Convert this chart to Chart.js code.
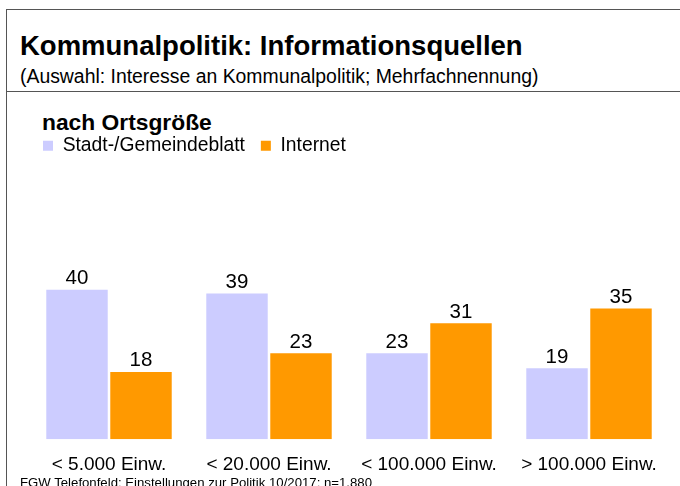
<!DOCTYPE html>
<html>
<head>
<meta charset="utf-8">
<script src="https://cdn.jsdelivr.net/npm/chart.js@4/dist/chart.umd.min.js"></script>
<style>
  body { margin: 0; width: 680px; height: 486px; overflow: hidden; background: #fff; position: relative; font-family: "Liberation Sans", Arial, sans-serif; }
  .frame { position: absolute; left: 6px; top: 9px; width: 700px; height: 500px; border-left: 1.5px solid #555; border-top: 1.5px solid #555; }
  .rule { position: absolute; left: 6px; top: 91px; width: 680px; border-top: 1.5px solid #555; }
  h1 { position: absolute; left: 20px; top: 30px; margin: 0; font-size: 27.5px; font-weight: bold; color: #000; line-height: 32px; }
  .sub { position: absolute; left: 20px; top: 64px; font-size: 19.4px; color: #000; line-height: 24px; }
  h2 { position: absolute; left: 42px; top: 108px; margin: 0; font-size: 22.8px; font-weight: bold; color: #000; line-height: 28px; }
  .note { position: absolute; left: 20px; top: 475px; font-size: 13.2px; color: #000; line-height: 16px; }
  .box { position: absolute; left: 0; top: 120px; width: 680px; height: 366px; }
</style>
</head>
<body>
<div class="frame"></div>
<div class="rule"></div>
<h1>Kommunalpolitik: Informationsquellen</h1>
<div class="sub">(Auswahl: Interesse an Kommunalpolitik; Mehrfachnennung)</div>
<h2>nach Ortsgröße</h2>
<div class="box"><canvas id="chart"></canvas></div>
<div class="note">FGW Telefonfeld: Einstellungen zur Politik 10/2017; n=1.880</div>
<script>
// Data
const categories = ['< 5.000 Einw.', '< 20.000 Einw.', '< 100.000 Einw.', '> 100.000 Einw.'];
const seriesNames = ['Stadt-/Gemeindeblatt', 'Internet'];
const gemeindeblatt = [40, 39, 23, 19];
const internet = [18, 23, 31, 35];
const colors = ['#ccccff', '#ff9900'];

const fontFamily = '"Liberation Sans", Arial, sans-serif';

// Value labels above each bar
const valueLabels = {
    id: 'valueLabels',
    afterDatasetsDraw (chart) {
        const ctx = chart.ctx;
        ctx.save();
        ctx.fillStyle = '#000';
        ctx.font = '20.5px ' + fontFamily;
        ctx.textAlign = 'center';
        ctx.textBaseline = 'bottom';
        chart.data.datasets.forEach((ds, i) => {
            chart.getDatasetMeta(i).data.forEach((bar, j) => {
                ctx.fillText(ds.data[j], bar.x, bar.y - 1);
            });
        });
        ctx.restore();
    }
};

const chart = new Chart(document.getElementById('chart'), {
    type: 'bar',
    data: {
        labels: categories,
        datasets: [
            { label: seriesNames[0], data: gemeindeblatt, backgroundColor: colors[0] },
            { label: seriesNames[1], data: internet, backgroundColor: colors[1] }
        ]
    },
    options: {
        responsive: true,
        maintainAspectRatio: false,
        animation: false,
        layout: { padding: { left: 27, right: 11, top: 0, bottom: -4 } },
        plugins: {
            tooltip: { enabled: false },
            legend: {
                position: 'top',
                align: 'start',
                labels: {
                    boxWidth: 10,
                    boxHeight: 10,
                    padding: 16,
                    color: '#000',
                    font: { size: 19.3, family: fontFamily }
                }
            }
        },
        datasets: { bar: { categoryPercentage: 0.8, barPercentage: 0.96 } },
        scales: {
            x: {
                grid: { display: false, drawTicks: false },
                border: { display: false },
                ticks: { color: '#000', padding: 14, font: { size: 19, family: fontFamily } }
            },
            y: {
                min: 0,
                max: 73.3,
                grid: { display: false, drawTicks: false },
                border: { display: false },
                ticks: { display: false },
                afterFit (scale) { scale.width = 2; }
            }
        }
    },
    plugins: [valueLabels]
});
</script>
</body>
</html>
